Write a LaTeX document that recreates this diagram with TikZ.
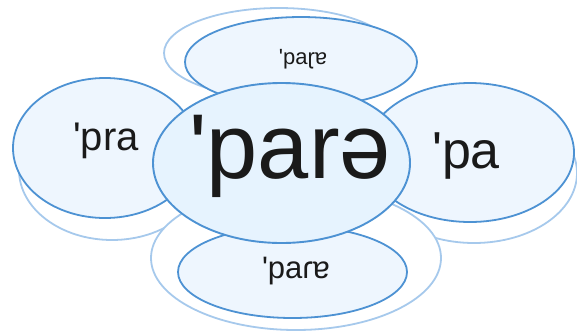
\documentclass[tikz,border=0pt]{standalone}
\usepackage{fontspec}
\setmainfont{Liberation Sans}
\newfontfamily\labfont{Liberation Sans}
\definecolor{edgec}{HTML}{4D92D3}
\definecolor{shadowc}{HTML}{A6C9EC}
\definecolor{petalc}{HTML}{EEF6FE}
\definecolor{corec}{HTML}{E6F3FE}
\definecolor{textc}{HTML}{1A1A1A}
\begin{document}
\begin{tikzpicture}[x=1pt,y=-1pt,
  shadowring/.style={draw=shadowc, line width=1.8pt, fill=white},
  petal/.style={draw=edgec, line width=1.8pt, fill=petalc},
  core/.style={draw=edgec, line width=1.9pt, fill=corec},
  lbl/.style={anchor=base, inner sep=0pt, text=textc}]
\useasboundingbox (0,0) rectangle (577,333);
% shadows
\draw[shadowring] (279,53) ellipse [x radius=115, y radius=45];
\draw[shadowring] (112,170) ellipse [x radius=93, y radius=70];
\draw[shadowring] (474,173) ellipse [x radius=103, y radius=70];
\draw[shadowring] (296,258) ellipse [x radius=145, y radius=72];
% petals
\draw[petal] (301,62) ellipse [x radius=116, y radius=45];
\draw[petal] (105,148) ellipse [x radius=92, y radius=70];
\draw[petal] (470,152.5) ellipse [x radius=104, y radius=69.5];
\draw[petal] (292.5,272) ellipse [x radius=114.5, y radius=46];
% core
\draw[core] (281.5,163) ellipse [x radius=128.5, y radius=80];
% labels
\node[lbl, font=\labfont\fontsize{22}{22}\selectfont] (top) at (303,64) {'paɽɐ};
\node[lbl, font=\labfont\fontsize{40}{40}\selectfont] (left) at (106,150) {'pra};
\node[lbl, font=\labfont\fontsize{52}{52}\selectfont] (right) at (466,168) {'pa};
\node[lbl, font=\labfont\fontsize{31}{31}\selectfont] (bottom) at (296,278) {'paɾɐ};
\node[lbl, font=\labfont\fontsize{92}{92}\selectfont] (center) at (290,178) {'parə};
\end{tikzpicture}
\end{document}
